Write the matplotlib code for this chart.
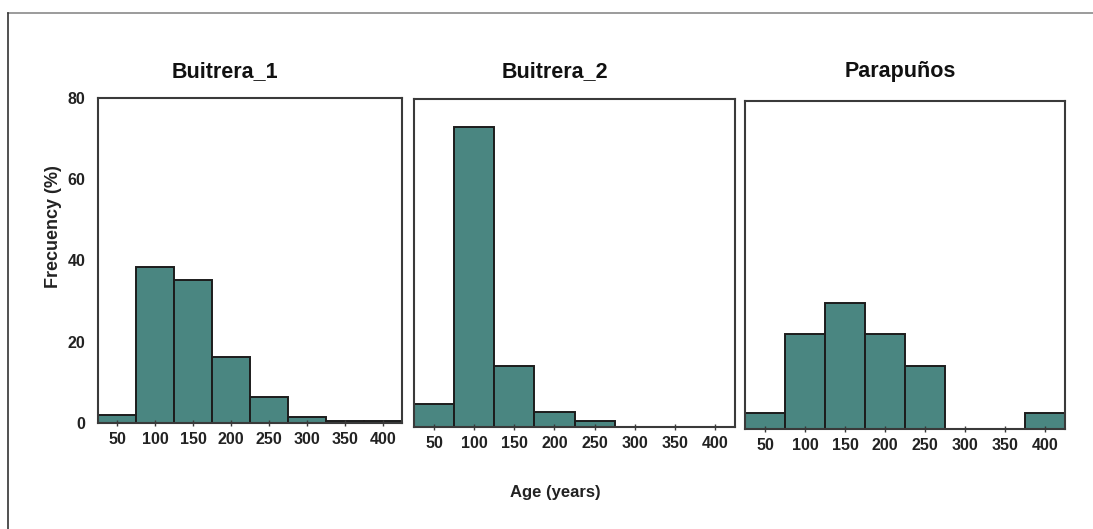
import matplotlib.pyplot as plt
from matplotlib.lines import Line2D

# age classes (centres of 50-year bins)
age_classes = [50, 100, 150, 200, 250, 300, 350, 400]
bin_width = 50

sites = ["Buitrera_1", "Buitrera_2", "Parapuños"]
buitrera_1 = [2.0, 38.5, 35.3, 16.2, 6.5, 1.4, 0.5, 0.5]
buitrera_2 = [5.6, 73.2, 14.9, 3.6, 1.5, 0.0, 0.0, 0.0]
parapunos = [3.8, 23.1, 30.8, 23.1, 15.4, 0.0, 0.0, 3.8]
site_values = [buitrera_1, buitrera_2, parapunos]

y_ticks = [0, 20, 40, 60, 80]

bar_color = "#4a8681"
edge_color = "#1c1c1c"
spine_color = "#3a3a3a"

plt.rcParams['font.family'] = ['Liberation Sans', 'DejaVu Sans']
plt.rcParams['font.weight'] = 'bold'

W, H = 1093, 529
fig = plt.figure(figsize=(W / 100, H / 100), dpi=100)

# axes boxes in pixels: left, top, right, bottom
boxes = [(98, 98, 402, 423), (414, 99, 735, 427), (745, 101, 1065, 429)]
title_x = [225, 555, 900]

for i, (site, vals) in enumerate(zip(sites, site_values)):
    l, t, r, b = boxes[i]
    ax = fig.add_axes([l / W, 1 - b / H, (r - l) / W, (b - t) / H])
    ax.bar(age_classes, vals, width=bin_width, color=bar_color,
           edgecolor=edge_color, linewidth=1.4)
    ax.set_xlim(25, 425)
    ax.set_ylim(0, 80)
    ax.set_xticks(age_classes)
    ax.set_xticklabels([str(a) for a in age_classes], fontsize=11.5, fontweight='bold', color='#222222')
    ax.tick_params(axis='x', direction='inout', length=5, width=1, color=spine_color, pad=4)
    ax.set_yticks(y_ticks)
    if i == 0:
        ax.set_yticklabels([str(v) for v in y_ticks], fontsize=11.5, fontweight='bold', color='#222222')
        ax.tick_params(axis='y', length=0, pad=9)
    else:
        ax.set_yticklabels([])
        ax.tick_params(axis='y', length=0)
    for s in ax.spines.values():
        s.set_color(spine_color)
        s.set_linewidth(1.5)
    fig.text(title_x[i] / W, 1 - 72 / H, site, ha='center', va='center',
             fontsize=15.5, fontweight='bold', color='#111111')

fig.text(53 / W, 1 - 227 / H, "Frecuency (%)", ha='center', va='center', rotation=90,
         fontsize=13, fontweight='bold', color='#222222')
fig.text(555 / W, 1 - 493 / H, "Age (years)", ha='center', va='center',
         fontsize=12, fontweight='bold', color='#222222')

# outer frame lines (top and left)
fig.add_artist(Line2D([8 / W, 1], [1 - 13 / H, 1 - 13 / H], transform=fig.transFigure,
                      color='#8a8a8a', linewidth=1.2))
fig.add_artist(Line2D([8 / W, 8 / W], [0, 1 - 13 / H], transform=fig.transFigure,
                      color='#333333', linewidth=1.2))

plt.savefig("out.png", dpi=100)
